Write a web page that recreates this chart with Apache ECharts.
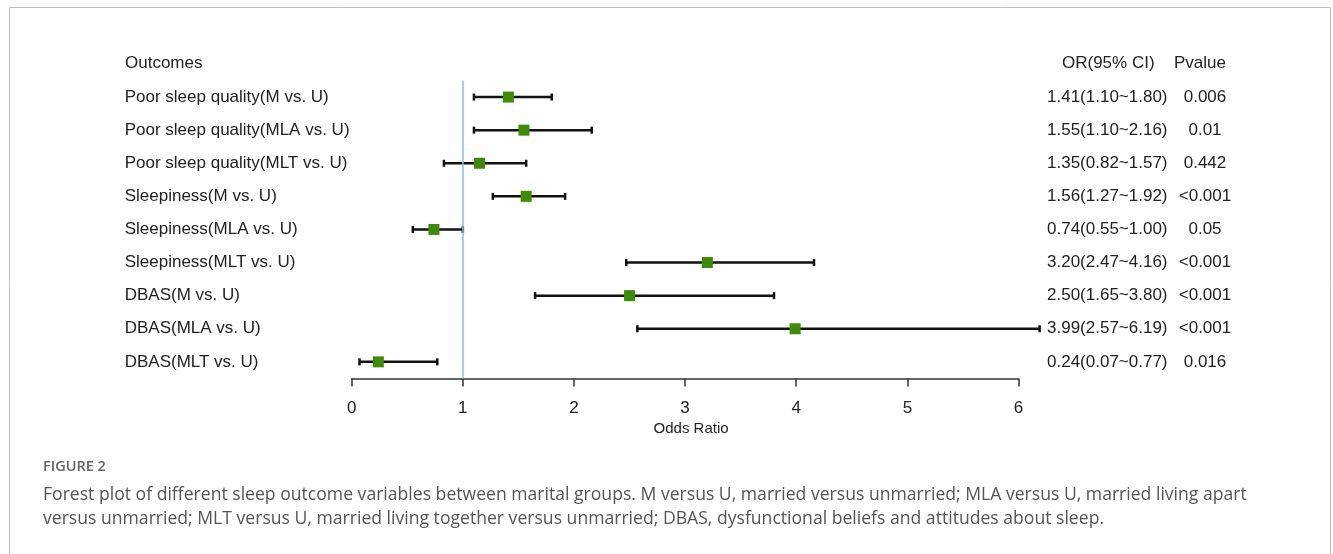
<!DOCTYPE html>
<html>
<head>
<meta charset="utf-8">
<script src="https://cdn.jsdelivr.net/npm/echarts@6/dist/echarts.min.js"></script>
<style>
  html, body { margin: 0; padding: 0; background: #fff; }
  #chart { width: 1333px; height: 554px; }
</style>
</head>
<body>
<div id="chart"></div>
<script>
const outcomes = [
  "Poor sleep quality(M vs. U)",
  "Poor sleep quality(MLA vs. U)",
  "Poor sleep quality(MLT vs. U)",
  "Sleepiness(M vs. U)",
  "Sleepiness(MLA vs. U)",
  "Sleepiness(MLT vs. U)",
  "DBAS(M vs. U)",
  "DBAS(MLA vs. U)",
  "DBAS(MLT vs. U)"
];
// box positions as drawn in the figure
const orPoint = [1.41, 1.55, 1.15, 1.57, 0.74, 3.20, 2.50, 3.99, 0.24];
const ciLow = [1.10, 1.10, 0.83, 1.27, 0.55, 2.47, 1.65, 2.57, 0.07];
const ciHigh = [1.80, 2.16, 1.57, 1.92, 1.00, 4.16, 3.80, 6.19, 0.77];
const orText = [
  "1.41(1.10~1.80)", "1.55(1.10~2.16)", "1.35(0.82~1.57)",
  "1.56(1.27~1.92)", "0.74(0.55~1.00)", "3.20(2.47~4.16)",
  "2.50(1.65~3.80)", "3.99(2.57~6.19)", "0.24(0.07~0.77)"
];
const pText = ["0.006", "0.01", "0.442", "<0.001", "0.05", "<0.001", "<0.001", "<0.001", "0.016"];

const font = "'Liberation Sans', Arial, sans-serif";
const capFont = "'Open Sans', 'Noto Sans', sans-serif";
const fs = 17;

const chart = echarts.init(document.getElementById("chart"));

const ciData = outcomes.map((_, i) => [i, ciLow[i], ciHigh[i]]);
const boxData = outcomes.map((_, i) => [orPoint[i], i]);

const hiddenAxis = {
  type: "category",
  data: outcomes,
  inverse: true,
  axisLine: { show: false },
  axisTick: { show: false },
  splitLine: { show: false }
};

chart.setOption({
  animation: false,
  grid: { left: 351.7, top: 80.5, width: 666.8, height: 297.9 },
  xAxis: {
    type: "value",
    min: 0,
    max: 6,
    interval: 1,
    name: "Odds Ratio",
    nameLocation: "middle",
    nameGap: 43,
    nameTextStyle: { fontFamily: font, fontSize: 15, color: "#222", padding: [0, 0, 0, 12] },
    axisLine: { show: true, lineStyle: { color: "#333", width: 1.5 } },
    axisTick: { show: true, length: 8, lineStyle: { color: "#333", width: 1.5 } },
    axisLabel: { margin: 21, fontFamily: font, fontSize: fs, color: "#222" },
    splitLine: { show: false }
  },
  yAxis: [
    Object.assign({}, hiddenAxis, {
      position: "left",
      axisLabel: { align: "left", margin: 227, fontFamily: font, fontSize: fs, color: "#222" }
    }),
    Object.assign({}, hiddenAxis, {
      data: orText,
      position: "right",
      axisLabel: { align: "left", margin: 28.5, fontFamily: font, fontSize: fs, color: "#222" }
    }),
    Object.assign({}, hiddenAxis, {
      data: pText,
      position: "right",
      axisLabel: { align: "center", margin: 186.5, fontFamily: font, fontSize: fs, color: "#222" }
    })
  ],
  graphic: [
    {
      type: "rect",
      shape: { x: 9.5, y: 7.5, width: 1321, height: 600 },
      style: { fill: "none", stroke: "#bdbdbd", lineWidth: 1 },
      silent: true
    },
    {
      type: "text",
      style: { x: 125, y: 63, text: "Outcomes", font: fs + "px " + font, fill: "#222", verticalAlign: "middle" }
    },
    {
      type: "text",
      style: { x: 1062, y: 63, text: "OR(95% CI)", font: fs + "px " + font, fill: "#222", verticalAlign: "middle" }
    },
    {
      type: "text",
      style: { x: 1200, y: 63, text: "Pvalue", font: fs + "px " + font, fill: "#222", align: "center", verticalAlign: "middle" }
    },
    {
      type: "text",
      style: { x: 43, y: 467, text: "FIGURE 2", font: "600 14.5px " + capFont, fill: "#666", verticalAlign: "middle" }
    },
    {
      type: "text",
      style: {
        x: 43, y: 483,
        text: "Forest plot of different sleep outcome variables between marital groups. M versus U, married versus unmarried; MLA versus U, married living apart\nversus unmarried; MLT versus U, married living together versus unmarried; DBAS, dysfunctional beliefs and attitudes about sleep.",
        font: "17.6px " + capFont,
        fill: "#555",
        lineHeight: 24
      }
    }
  ],
  series: [
    {
      type: "custom",
      name: "CI",
      yAxisIndex: 0,
      data: ciData,
      encode: { x: [1, 2], y: 0 },
      renderItem: function (params, api) {
        const idx = api.value(0);
        const a = api.coord([api.value(1), idx]);
        const b = api.coord([api.value(2), idx]);
        const h = 3.5;
        const st = { stroke: "#111", lineWidth: 2.5 };
        return {
          type: "group",
          children: [
            { type: "line", shape: { x1: a[0], y1: a[1], x2: b[0], y2: b[1] }, style: st },
            { type: "line", shape: { x1: a[0], y1: a[1] - h, x2: a[0], y2: a[1] + h }, style: st },
            { type: "line", shape: { x1: b[0], y1: b[1] - h, x2: b[0], y2: b[1] + h }, style: st }
          ]
        };
      },
      markLine: {
        silent: true,
        symbol: "none",
        label: { show: false },
        lineStyle: { color: "#8cc3cb", width: 1.5, type: "solid" },
        data: [{ xAxis: 1 }]
      },
      z: 2
    },
    {
      type: "scatter",
      name: "OR",
      yAxisIndex: 0,
      data: boxData,
      symbol: "rect",
      symbolSize: 11,
      itemStyle: { color: "#3f8a07", opacity: 1 },
      z: 3
    }
  ]
});
</script>
</body>
</html>
